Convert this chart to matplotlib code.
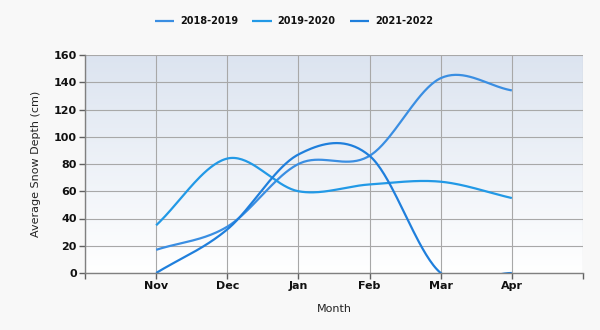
import numpy as np
import matplotlib
matplotlib.use("Agg")
import matplotlib.pyplot as plt
from matplotlib.colors import LinearSegmentedColormap

months = ["Nov", "Dec", "Jan", "Feb", "Mar", "Apr"]
series_names = ["2018-2019", "2019-2020", "2021-2022"]
s2018 = [17, 34, 80, 86, 143, 134]
s2019 = [35, 84, 60, 65, 67, 55]
s2021 = [0, 32, 87, 86, 0, 0]
colors = ["#3a8ee2", "#2299e6", "#1f7fdc"]

def catmull(yv, n=40):
    y = np.asarray(yv, float)
    k = len(y)
    m = np.zeros(k)
    m[1:-1] = (y[2:] - y[:-2]) / 2.0
    m[0] = y[1] - y[0]
    m[-1] = y[-1] - y[-2]
    xs, ys = [], []
    t = np.linspace(0, 1, n)
    h00 = 2*t**3 - 3*t**2 + 1
    h10 = t**3 - 2*t**2 + t
    h01 = -2*t**3 + 3*t**2
    h11 = t**3 - t**2
    for i in range(k - 1):
        xs.append(i + t)
        ys.append(h00*y[i] + h10*m[i] + h01*y[i+1] + h11*m[i+1])
    return np.concatenate(xs), np.concatenate(ys)

fig = plt.figure(figsize=(6, 3.3), dpi=100, facecolor="#f8f8f8")
ax = fig.add_axes([85/600, 57/330, 498/600, 218/330])
ax.set_xlim(-1, 6)
ax.set_ylim(0, 160)

cmap = LinearSegmentedColormap.from_list("bg", ["#ffffff", "#dce4f0"])
grad = np.linspace(0, 1, 256).reshape(-1, 1)
ax.imshow(grad, extent=[-1, 6, 0, 160], origin="lower", aspect="auto",
          cmap=cmap, zorder=0)

ax.set_xticks(range(-1, 7))
ax.set_xticklabels([""] + months + [""])
ax.set_yticks(range(0, 161, 20))
ax.grid(True, color="#a8a8a8", linewidth=0.8, zorder=1)
ax.set_axisbelow(False)

for name, vals, c in zip(series_names, [s2018, s2019, s2021], colors):
    xs, ys = catmull(vals)
    ax.plot(xs, ys, color=c, linewidth=1.6, label=name, zorder=3,
            solid_capstyle="butt")

for side in ["top", "right"]:
    ax.spines[side].set_visible(False)
for side in ["left", "bottom"]:
    ax.spines[side].set_color("#808080")
    ax.spines[side].set_linewidth(1.0)
    ax.spines[side].set_zorder(4)

ax.tick_params(axis="both", colors="#606060", length=4, width=1,
               labelcolor="#111111", labelsize=8)
for lab in ax.get_xticklabels() + ax.get_yticklabels():
    lab.set_fontweight("bold")
ax.tick_params(axis="x", pad=2)
ax.tick_params(axis="y", pad=2)

ax.set_ylabel("Average Snow Depth (cm)", fontsize=8, color="#222222", labelpad=9)
ax.set_xlabel("Month", fontsize=8, color="#222222", labelpad=9)

leg = fig.legend(loc="center", bbox_to_anchor=(0.49, 0.935), ncol=3,
                 frameon=False, fontsize=7, handlelength=2.0,
                 columnspacing=1.45, handletextpad=0.6)
for t in leg.get_texts():
    t.set_fontweight("bold")
    t.set_color("#111111")

fig.savefig("out.png", dpi=100, facecolor=fig.get_facecolor())
